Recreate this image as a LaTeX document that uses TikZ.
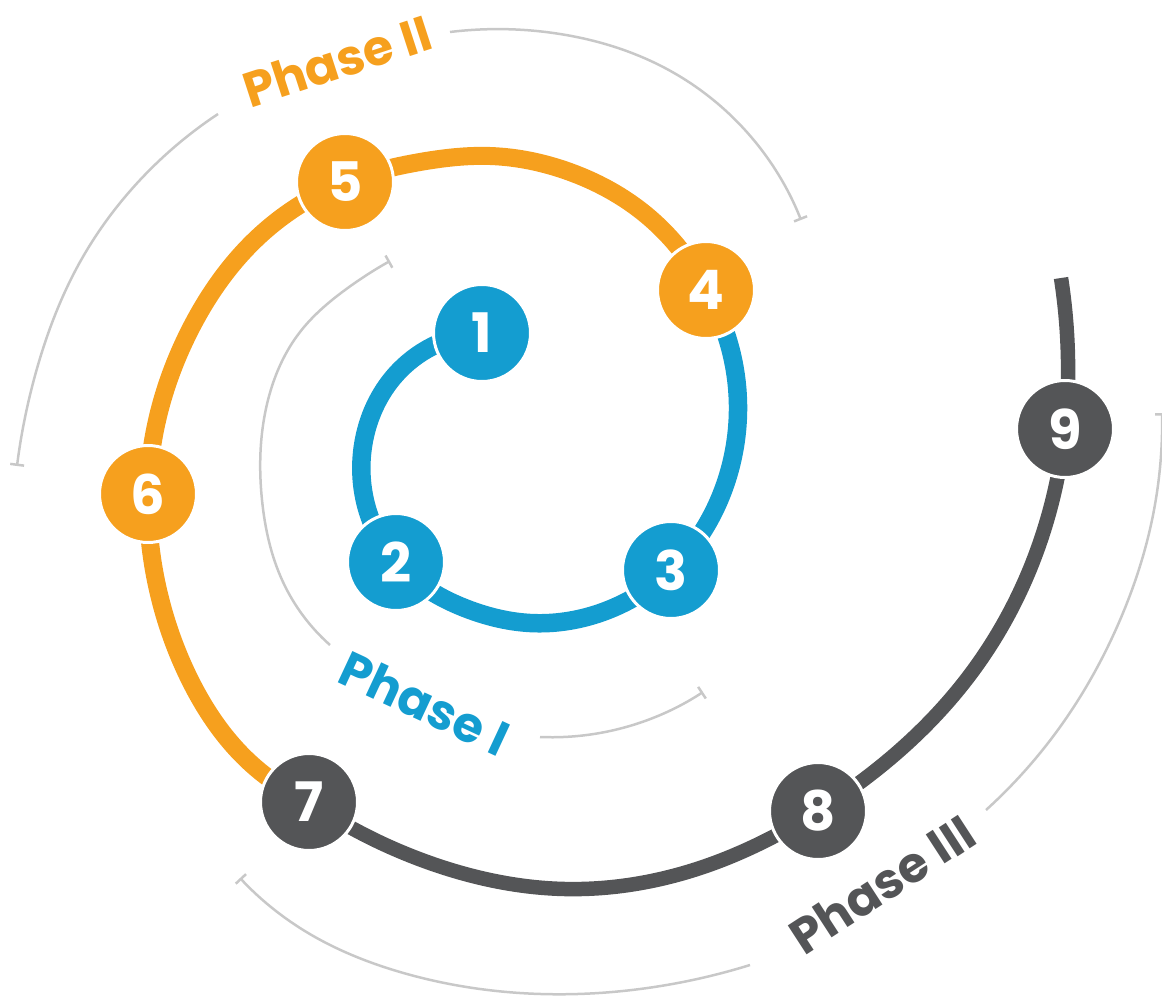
\documentclass[tikz,border=0pt]{standalone}
\usepackage{fontspec}
\setmainfont{Poppins}
\usetikzlibrary{arrows.meta,hobby}
\definecolor{phaseblue}{HTML}{149DD0}
\definecolor{phaseorange}{HTML}{F6A01E}
\definecolor{phasedark}{HTML}{545557}
\definecolor{arcgray}{HTML}{C8C8C8}
\begin{document}
\begin{tikzpicture}[x=0.02cm,y=-0.02cm,line join=round,use Hobby shortcut,
  stepnode/.style={circle,minimum size=1.94cm,inner sep=0pt,draw=white,line width=0.06cm,text=white,font=\bfseries\fontsize{31}{31}\selectfont},
  phasearc/.style={draw=arcgray,line width=0.05cm},
  arctick/.style={-{Bar[width=0.28cm]}},
  phaselabel/.style={font=\bfseries\fontsize{28}{28}\selectfont}]
\useasboundingbox (0,0) rectangle (1162,997);
\coordinate (c1) at (482,333);
\coordinate (c2) at (396,562);
\coordinate (c3) at (671,570);
\coordinate (c4) at (706,290);
\coordinate (c5) at (345,182);
\coordinate (c6) at (148,494);
\coordinate (c7) at (309,802);
\coordinate (c8) at (818,811);
\coordinate (c9) at (1065,429);
\coordinate (tail) at (1061,278);
\draw [phasearc,arctick] (330,645) .. (283,582) .. (262,500) .. (268,400) .. (300,332) .. (345,290) .. (390,261);
\draw [phasearc,arctick] (540,737) .. (610,731) .. (703,692);
\draw [phasearc,arctick] (218,114) .. (140,180) .. (80,262) .. (38,365) .. (17,466);
\draw [phasearc,arctick] (450,32) .. (560,34) .. (665,68) .. (745,130) .. (801,220);
\draw [phasearc,arctick] (986,810) .. (1060,727) .. (1120,620) .. (1152,520) .. (1162,413);
\draw [phasearc,arctick] (750,965) .. (640,989) .. (520,993) .. (400,972) .. (300,928) .. (240,878);
\draw [phaseblue,line width=0.37cm] (c1) .. (400,370) .. (364,440) .. (366,505) .. (c2) .. (470,610) .. (530,623) .. (600,613) .. (c3) .. (725,485) .. (738,405) .. (c4);
\draw [phaseorange,line width=0.36cm] (c4) .. (640,210) .. (570,172) .. (490,156) .. (420,162) .. (c5) .. (255,240) .. (190,330) .. (155,430) .. (c6) .. (158,590) .. (190,680) .. (245,758) .. (c7);
\draw [phasedark,line width=0.29cm] (c7) .. (430,863) .. (565,889) .. (700,868) .. (c8) .. (975,668) .. (c9) .. (1068,360) .. (tail);
\node [stepnode,fill=phaseblue] (n1) at (c1) {1};
\node [stepnode,fill=phaseblue] (n2) at (c2) {2};
\node [stepnode,fill=phaseblue] (n3) at (c3) {3};
\node [stepnode,fill=phaseorange] (n4) at (c4) {4};
\node [stepnode,fill=phaseorange] (n5) at (c5) {5};
\node [stepnode,fill=phaseorange] (n6) at (c6) {6};
\node [stepnode,fill=phasedark] (n7) at (c7) {7};
\node [stepnode,fill=phasedark] (n8) at (c8) {8};
\node [stepnode,fill=phasedark] (n9) at (c9) {9};
\node [phaselabel,text=phaseblue,rotate=-25] (lab1) at (425,703) {Phase I};
\node [phaselabel,text=phaseorange,rotate=18] (lab2) at (337,61) {Phase II};
\node [phaselabel,text=phasedark,rotate=33] (lab3) at (882,884) {Phase III};
\end{tikzpicture}
\end{document}
